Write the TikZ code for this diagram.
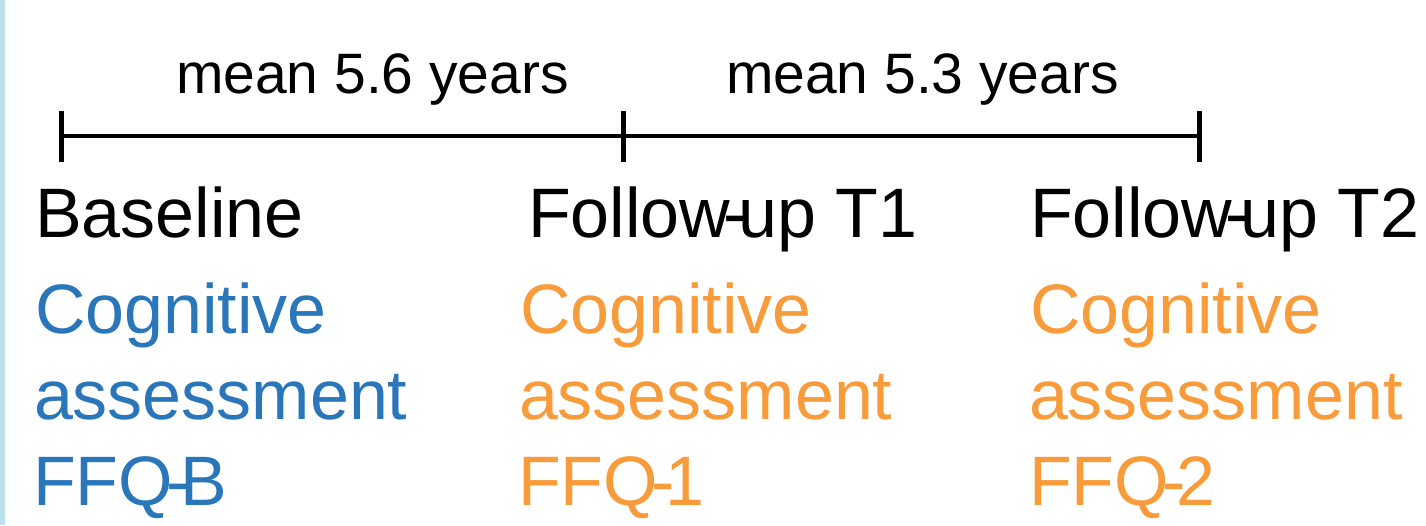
\documentclass[tikz,border=0pt]{standalone}
\usepackage{fontspec}
\setmainfont{Liberation Sans}
\definecolor{stripblue}{HTML}{BDE0EF}
\definecolor{basecol}{HTML}{2A76BA}
\definecolor{followcol}{HTML}{F79B3B}
\newcommand{\tighthyph}{\kern-0.1em-\kern-0.12em}
\begin{document}
\begin{tikzpicture}[x=1pt,y=-1pt,
  every node/.style={inner sep=0pt,outer sep=0pt,anchor=base west},
  durationlabel/.style={font=\fontsize{57}{66}\selectfont},
  phaselabel/.style={font=\fontsize{70}{86}\selectfont},
  itemlabel/.style={font=\fontsize{70}{86}\selectfont},
  timeline/.style={line width=4.5pt},
  tickmark/.style={line width=5pt}]
  % canvas and left accent strip
  \useasboundingbox (0,0) rectangle (1426,525);
  \fill[white] (0,0) rectangle (1426,525);
  \fill[stripblue] (0,0) rectangle (5,525);

  % time points
  \coordinate (t0) at (61,136);
  \coordinate (t1) at (623,136);
  \coordinate (t2) at (1199,136);
  \coordinate (t0a) at (61,111);  \coordinate (t0b) at (61,162);
  \coordinate (t1a) at (623,111); \coordinate (t1b) at (623,162);
  \coordinate (t2a) at (1199,111);\coordinate (t2b) at (1199,162);

  \draw[timeline] (t0) -- (t1) -- (t2);
  \draw[tickmark] (t0a) -- (t0b);
  \draw[tickmark] (t1a) -- (t1b);
  \draw[tickmark] (t2a) -- (t2b);

  % intervals
  \node[durationlabel] (d1) at (176,93) {mean 5.6 years};
  \node[durationlabel] (d2) at (726,93) {mean 5.3 years};

  % baseline column
  \node[phaselabel] (p0) at (35,237) {Baseline};
  \node[itemlabel,text=basecol] (c0) at (35,333) {Cognitive};
  \node[itemlabel,text=basecol] (a0) at (34,419) {assessment};
  \node[itemlabel,text=basecol] (f0) at (33,505) {FFQ\tighthyph B};

  % first follow-up column
  \node[phaselabel] (p1) at (528,237) {Follow\tighthyph up T1};
  \node[itemlabel,text=followcol] (c1) at (520,333) {Cognitive};
  \node[itemlabel,text=followcol] (a1) at (519,419) {assessment};
  \node[itemlabel,text=followcol] (f1) at (518,505) {FFQ\tighthyph 1};

  % second follow-up column
  \node[phaselabel] (p2) at (1030,237) {Follow\tighthyph up T2};
  \node[itemlabel,text=followcol] (c2) at (1030,333) {Cognitive};
  \node[itemlabel,text=followcol] (a2) at (1029,419) {assessment};
  \node[itemlabel,text=followcol] (f2) at (1029,505) {FFQ\tighthyph 2};
\end{tikzpicture}
\end{document}
